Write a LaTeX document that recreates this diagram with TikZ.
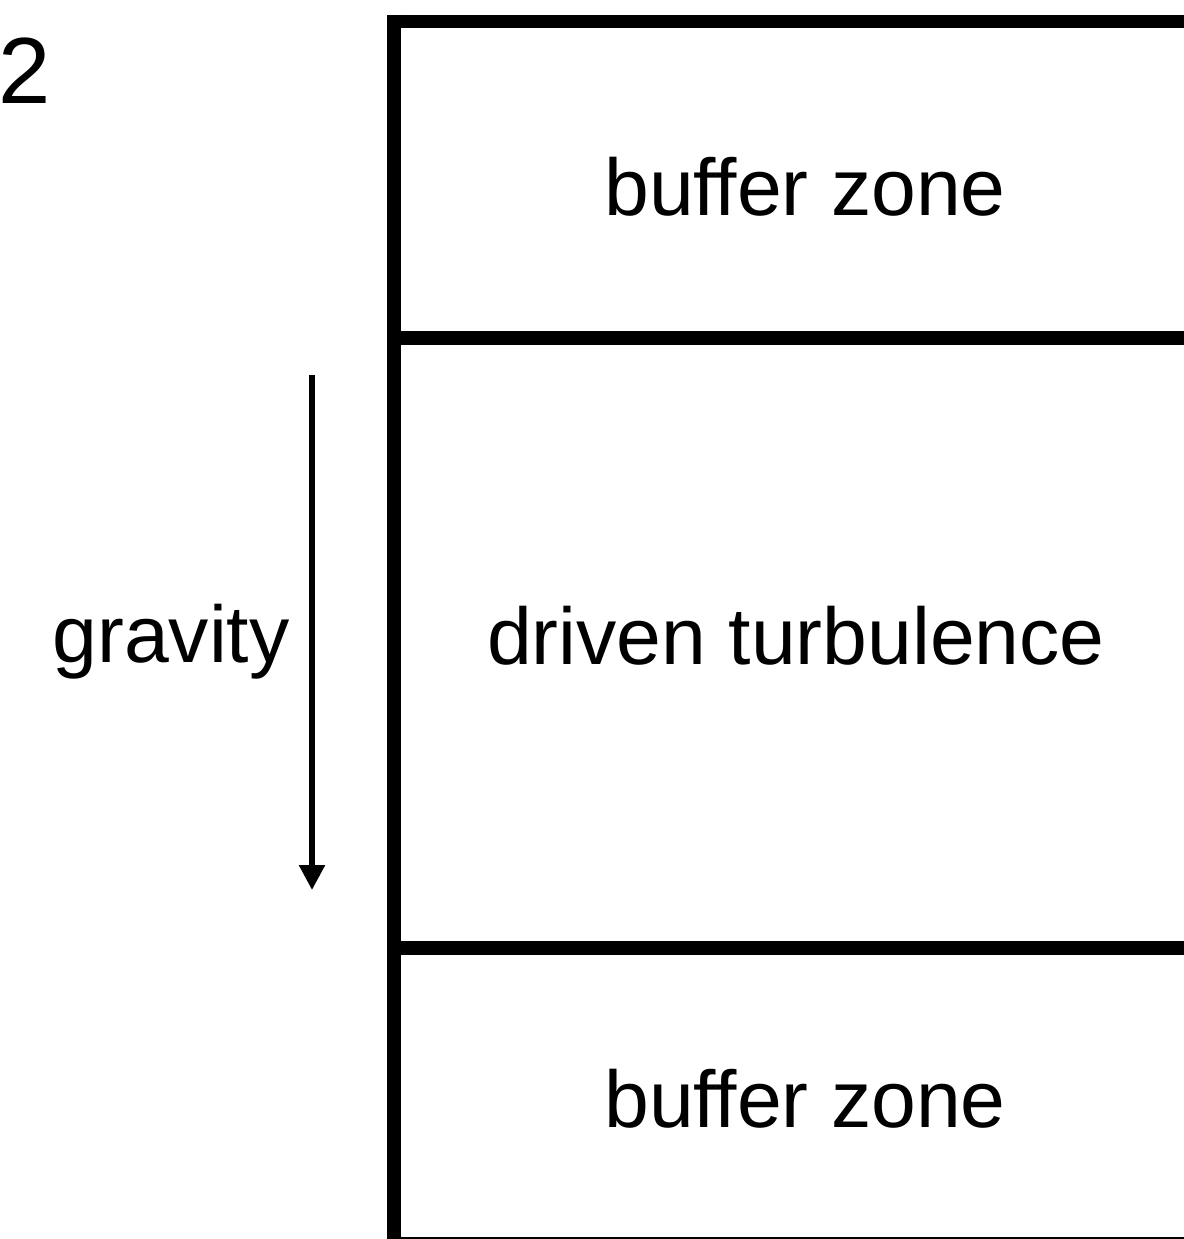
\documentclass[tikz,border=0pt]{standalone}
\usepackage{fontspec}
\setmainfont{Liberation Sans}
\usetikzlibrary{arrows.meta}

\tikzset{
  wall/.style={line width=14pt, line cap=butt},
  divider/.style={line width=13.5pt, line cap=butt},
  floorline/.style={line width=2.5pt},
  label/.style={inner sep=0pt, anchor=base, font=\fontsize{80.5}{96}\selectfont},
  gravityarrow/.style={line width=5.5pt, -{Triangle[width=25pt,length=25pt]}},
}

\begin{document}
\begin{tikzpicture}[x=1pt, y=-1pt]
  \useasboundingbox (0,0) rectangle (1183,1239);

  % panel index
  \node[inner sep=0pt, anchor=base west, font=\fontsize{94}{110}\selectfont]
    (idx) at (-1.5,103) {2};

  % column walls and zone dividers
  \coordinate (tl) at (394,15);
  \coordinate (bl) at (394,1245);
  \coordinate (tr) at (1190,21.5);
  \draw[wall] (tl) -- (bl);
  \draw[divider] (387,21.5) -- (tr);
  \coordinate (d1l) at (394,338);
  \coordinate (d1r) at (1190,338);
  \coordinate (d2l) at (394,948);
  \coordinate (d2r) at (1190,948);
  \draw[divider] (d1l) -- (d1r);
  \draw[divider] (d2l) -- (d2r);
  \coordinate (fl) at (394,1238);
  \coordinate (fr) at (1190,1238);
  \draw[floorline] (fl) -- (fr);

  % zone labels
  \node[label] (topzone) at (805,215) {buffer zone};
  \node[label] (midzone) at (796,664) {driven turbulence};
  \node[label] (botzone) at (805,1127) {buffer zone};

  % gravity direction
  \node[label] (grav) at (171,662) {gravity};
  \coordinate (gtop) at (312,375);
  \coordinate (gbot) at (312,890);
  \draw[gravityarrow] (gtop) -- (gbot);
\end{tikzpicture}
\end{document}
